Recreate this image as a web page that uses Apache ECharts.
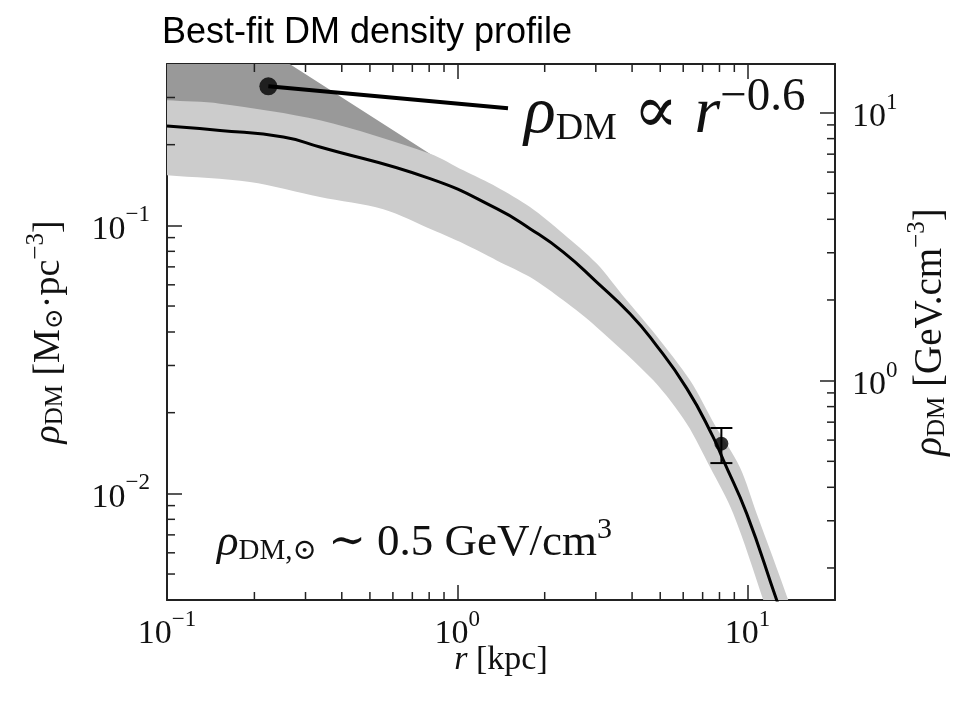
<!DOCTYPE html>
<html>
<head>
<meta charset="utf-8">
<script src="https://cdn.jsdelivr.net/npm/echarts@6/dist/echarts.min.js"></script>
<style>
  html, body { margin: 0; padding: 0; background: #fff; }
  #chart { width: 974px; height: 701px; }
</style>
</head>
<body>
<div id="chart"></div>
<script>
// Radius r in kpc, density in M_sun / pc^3
const fitR   = [0.1, 0.1523, 0.2516, 0.3365, 0.8054, 1.367, 1.780, 2.318, 3.021, 3.934, 4.733, 6.170, 7.617, 8.249, 9.929, 12.60, 14.57];
const fitRho = [0.2348, 0.2261, 0.2136, 0.1960, 0.1494, 0.1154, 0.0972, 0.0795, 0.0614, 0.0468, 0.0369, 0.02465, 0.01618, 0.01330, 0.00840, 0.00399, 0.00257];

// Uncertainty band of the fit
const bandUpperR   = [0.09, 0.1, 0.1523, 0.3365, 0.8054, 1.049, 1.367, 1.780, 2.318, 3.021, 3.782, 4.836, 6.333, 7.720, 9.414, 10.75, 13.81, 15.15];
const bandUpperRho = [0.295, 0.2927, 0.2845, 0.2465, 0.1851, 0.1604, 0.1390, 0.1170, 0.0931, 0.0720, 0.0534, 0.0389, 0.0264, 0.01794, 0.01250, 0.00840, 0.00399, 0.00283];
const bandLowerR   = [0.09, 0.1, 0.193, 0.3365, 0.556, 0.827, 1.049, 1.367, 1.780, 2.318, 3.021, 4.733, 6.170, 7.421, 8.927, 11.33, 12.43];
const bandLowerRho = [0.155, 0.1537, 0.1451, 0.1275, 0.1148, 0.0958, 0.0855, 0.0740, 0.0641, 0.0525, 0.0417, 0.0264, 0.01820, 0.01253, 0.00840, 0.00399, 0.00283];

// Inner cusp region allowed by a rho ~ r^-0.6 slope
const cuspUpperR   = [0.09, 0.1, 0.2653, 0.8718, 1.2];
const cuspUpperRho = [0.84, 0.784, 0.399, 0.1748, 0.135];
const cuspLowerR   = [0.09, 0.1, 1.0];
const cuspLowerRho = [0.21, 0.2, 0.14];

// Local density measurement at the solar radius
const sunR     = [8.122];
const sunRho   = [0.01533];
const sunRhoLo = [0.01297];
const sunRhoHi = [0.01753];

// Pointer to the cusp annotation
const pointerR   = [0.2234, 1.495];
const pointerRho = [0.3302, 0.2733];

// Axis ranges and minor tick positions
const rRange   = [0.1, 20];
const rhoRange = [0.004, 0.4];
const GEV_PER_MSUN_PC3 = 37.97;
const rMinorTicks   = [0.2, 0.3, 0.4, 0.5, 0.6, 0.7, 0.8, 0.9, 2, 3, 4, 5, 6, 7, 8, 9];
const rhoMinorTicks = [0.005, 0.006, 0.007, 0.008, 0.009, 0.02, 0.03, 0.04, 0.05, 0.06, 0.07, 0.08, 0.09, 0.2, 0.3];
const gevMinorTicks = [0.2, 0.3, 0.4, 0.5, 0.6, 0.7, 0.8, 0.9, 2, 3, 4, 5, 6, 7, 8, 9];

const SERIF = "'Liberation Serif', 'Times New Roman', 'DejaVu Serif', serif";
const INK = '#111';
const frameLine = { color: '#222', width: 2 };
const majorTick = { inside: true, length: 15, lineStyle: { color: '#222', width: 1.5 } };
const minorLen = 8;
const tickStroke = { stroke: '#222', lineWidth: 1.5 };

function powLabel(v) {
  const lg = Math.log10(v);
  const e = Math.round(lg);
  if (Math.abs(lg - e) > 1e-6) return '';
  return '{b|10}{s|' + (e < 0 ? '\u2212' + (-e) : e) + '}';
}
const powRich = {
  b: { fontFamily: SERIF, fontSize: 34, color: INK, lineHeight: 43, verticalAlign: 'bottom' },
  s: { fontFamily: SERIF, fontSize: 23, color: INK, lineHeight: 23, verticalAlign: 'top' }
};
function makeNameRich(big, small) {
  return {
    i: { fontFamily: SERIF, fontSize: big, fontStyle: 'italic', color: INK, lineHeight: big + 6, verticalAlign: 'bottom' },
    t: { fontFamily: SERIF, fontSize: big, color: INK, lineHeight: big + 6, verticalAlign: 'bottom' },
    sb: { fontFamily: SERIF, fontSize: small, color: INK, lineHeight: small, verticalAlign: 'bottom' },
    sp: { fontFamily: SERIF, fontSize: small, color: INK, lineHeight: small, verticalAlign: 'top' }
  };
}

function bandSeries(upR, upV, loR, loV, color, z, smooth) {
  return {
    type: 'custom', xAxisIndex: 0, yAxisIndex: 0, clip: true, silent: true, z: z,
    data: [[upR[1], upV[1]]],
    renderItem: function (params, api) {
      const pts = [];
      for (let i = 0; i < upR.length; i++) pts.push(api.coord([upR[i], upV[i]]));
      for (let i = loR.length - 1; i >= 0; i--) pts.push(api.coord([loR[i], loV[i]]));
      return { type: 'polygon', shape: { points: pts, smooth: smooth }, style: { fill: color } };
    }
  };
}

const chart = echarts.init(document.getElementById('chart'), null, { renderer: 'canvas' });

chart.setOption({
  animation: false,
  backgroundColor: '#fff',
  title: {
    text: 'Best-fit DM density profile',
    left: 162, top: 15, padding: 0,
    textStyle: { fontFamily: "'Liberation Sans', Arial, sans-serif", fontSize: 36, fontWeight: 'normal', color: '#000' }
  },
  grid: { left: 167, right: 139, top: 64, bottom: 101, containLabel: false, outerBoundsMode: 'none' },
  xAxis: [
    {
      type: 'log', logBase: 10, min: rRange[0], max: rRange[1], position: 'bottom',
      axisLine: { show: true, onZero: false, lineStyle: frameLine },
      axisTick: majorTick,
      axisLabel: { margin: 8, formatter: powLabel, rich: powRich },
      splitLine: { show: false },
      name: '{i|r}{t| [kpc]}', nameLocation: 'middle', nameGap: 37, nameMoveOverlap: false,
      nameTextStyle: { rich: makeNameRich(34, 22) }
    },
    {
      type: 'log', logBase: 10, min: rRange[0], max: rRange[1], position: 'top',
      axisLine: { show: true, onZero: false, lineStyle: frameLine },
      axisTick: majorTick,
      axisLabel: { show: false },
      splitLine: { show: false }
    }
  ],
  yAxis: [
    {
      type: 'log', logBase: 10, min: rhoRange[0], max: rhoRange[1], position: 'left',
      axisLine: { show: true, onZero: false, lineStyle: frameLine },
      axisTick: majorTick,
      axisLabel: { margin: 17, formatter: powLabel, rich: powRich },
      splitLine: { show: false },
      name: '{i|\u03c1}{sb|DM}{t| [M}{sb|\u2299}{t|\u00b7pc}{sp|\u22123}{t|]}',
      nameLocation: 'middle', nameGap: 99, nameRotate: 90, nameMoveOverlap: false,
      nameTextStyle: { rich: makeNameRich(38, 25) }
    },
    {
      type: 'log', logBase: 10,
      min: rhoRange[0] * GEV_PER_MSUN_PC3, max: rhoRange[1] * GEV_PER_MSUN_PC3, position: 'right',
      axisLine: { show: true, onZero: false, lineStyle: frameLine },
      axisTick: majorTick,
      axisLabel: { margin: 17, formatter: powLabel, rich: powRich },
      splitLine: { show: false },
      name: '{i|\u03c1}{sb|DM}{t| [GeV.cm}{sp|\u22123}{t|]}',
      nameLocation: 'middle', nameGap: 70, nameRotate: 90, nameMoveOverlap: false,
      nameTextStyle: { rich: makeNameRich(39, 25) }
    }
  ],
  graphic: [
    {
      type: 'text', x: 524, y: 74, z: 20,
      style: {
        text: '{r|\u03c1}{sb|DM}{o| \u221d }{r|r}{sp|\u22120.6}',
        rich: {
          r: { fontFamily: SERIF, fontSize: 66, fontStyle: 'italic', fill: INK, lineHeight: 74, verticalAlign: 'bottom' },
          o: { fontFamily: SERIF, fontSize: 66, fill: INK, lineHeight: 74, verticalAlign: 'bottom' },
          sb: { fontFamily: SERIF, fontSize: 38, fill: INK, lineHeight: 38, verticalAlign: 'bottom' },
          sp: { fontFamily: SERIF, fontSize: 47, fill: INK, lineHeight: 47, verticalAlign: 'top' }
        }
      }
    },
    {
      type: 'text', x: 217, y: 515, z: 20,
      style: {
        text: '{r|\u03c1}{sb|DM,\u2299}{o| \u223c 0.5 GeV/cm}{sp|3}',
        rich: {
          r: { fontFamily: SERIF, fontSize: 45, fontStyle: 'italic', fill: INK, lineHeight: 51, verticalAlign: 'bottom' },
          o: { fontFamily: SERIF, fontSize: 45, fill: INK, lineHeight: 51, verticalAlign: 'bottom' },
          sb: { fontFamily: SERIF, fontSize: 29, fill: INK, lineHeight: 29, verticalAlign: 'bottom' },
          sp: { fontFamily: SERIF, fontSize: 30, fill: INK, lineHeight: 30, verticalAlign: 'top' }
        }
      }
    }
  ],
  series: [
    bandSeries(cuspUpperR, cuspUpperRho, cuspLowerR, cuspLowerRho, '#999999', 1, 0),
    bandSeries(bandUpperR, bandUpperRho, bandLowerR, bandLowerRho, '#cccccc', 2, 0.3),
    {
      type: 'line', xAxisIndex: 0, yAxisIndex: 0, z: 4, silent: true,
      data: fitR.map((r, i) => [r, fitRho[i]]),
      showSymbol: false, symbol: 'none', smooth: 0.5, clip: true,
      lineStyle: { color: '#000', width: 3 }
    },
    {
      type: 'custom', xAxisIndex: 0, yAxisIndex: 0, z: 5, silent: true,
      data: sunR.map((r, i) => [r, sunRhoLo[i], sunRhoHi[i]]),
      renderItem: function (params, api) {
        const lo = api.coord([api.value(0), api.value(1)]);
        const hi = api.coord([api.value(0), api.value(2)]);
        const half = 11;
        const st = { stroke: '#000', lineWidth: 2 };
        return {
          type: 'group', children: [
            { type: 'line', shape: { x1: lo[0], y1: lo[1], x2: hi[0], y2: hi[1] }, style: st },
            { type: 'line', shape: { x1: lo[0] - half, y1: lo[1], x2: lo[0] + half, y2: lo[1] }, style: st },
            { type: 'line', shape: { x1: hi[0] - half, y1: hi[1], x2: hi[0] + half, y2: hi[1] }, style: st }
          ]
        };
      }
    },
    {
      type: 'scatter', xAxisIndex: 0, yAxisIndex: 0, z: 6, silent: true,
      data: sunR.map((r, i) => [r, sunRho[i]]),
      symbol: 'circle', symbolSize: 14, itemStyle: { color: '#000' }
    },
    {
      type: 'line', xAxisIndex: 0, yAxisIndex: 0, z: 6, silent: true,
      data: pointerR.map((r, i) => [r, pointerRho[i]]),
      symbol: 'none', clip: false,
      lineStyle: { color: '#000', width: 4 }
    },
    {
      type: 'scatter', xAxisIndex: 0, yAxisIndex: 0, z: 7, silent: true,
      data: [[pointerR[0], pointerRho[0]]],
      symbol: 'circle', symbolSize: 18, itemStyle: { color: '#000' }
    },
    {
      // minor ticks on bottom and top frame
      type: 'custom', xAxisIndex: 0, yAxisIndex: 0, z: 10, silent: true,
      data: rMinorTicks.map(v => [v, rhoRange[0]]),
      renderItem: function (params, api) {
        const cs = params.coordSys;
        const x = api.coord([api.value(0), rhoRange[0]])[0];
        const yb = cs.y + cs.height;
        return {
          type: 'group', children: [
            { type: 'line', shape: { x1: x, y1: yb, x2: x, y2: yb - minorLen }, style: tickStroke },
            { type: 'line', shape: { x1: x, y1: cs.y, x2: x, y2: cs.y + minorLen }, style: tickStroke }
          ]
        };
      }
    },
    {
      // minor ticks on the left frame
      type: 'custom', xAxisIndex: 0, yAxisIndex: 0, z: 10, silent: true,
      data: rhoMinorTicks.map(v => [rRange[0], v]),
      renderItem: function (params, api) {
        const cs = params.coordSys;
        const y = api.coord([rRange[0], api.value(1)])[1];
        return { type: 'line', shape: { x1: cs.x, y1: y, x2: cs.x + minorLen, y2: y }, style: tickStroke };
      }
    },
    {
      // minor ticks on the right frame, GeV scale
      type: 'custom', xAxisIndex: 0, yAxisIndex: 1, z: 10, silent: true,
      data: gevMinorTicks.map(v => [rRange[1], v]),
      renderItem: function (params, api) {
        const cs = params.coordSys;
        const y = api.coord([rRange[1], api.value(1)])[1];
        const xr = cs.x + cs.width;
        return { type: 'line', shape: { x1: xr, y1: y, x2: xr - minorLen, y2: y }, style: tickStroke };
      }
    }
  ]
});
</script>
</body>
</html>
